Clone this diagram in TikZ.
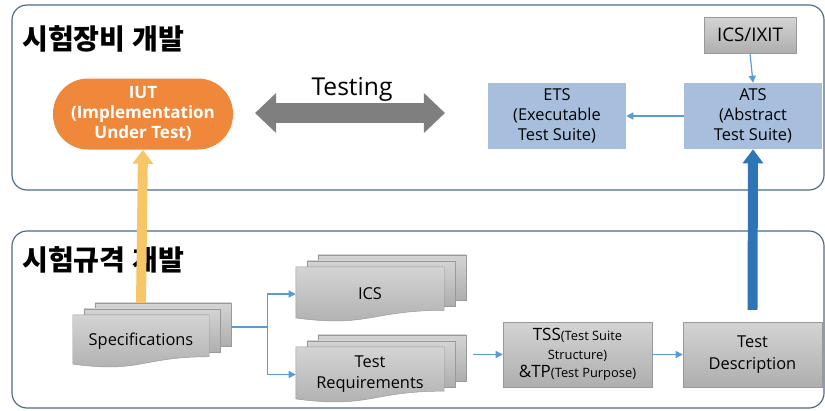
\documentclass[tikz,border=0pt]{standalone}
\usepackage{fontspec}
\setmainfont{Open Sans}
\newfontfamily\krfont{Noto Sans CJK KR}
\usetikzlibrary{arrows.meta,calc,backgrounds}

\definecolor{panelline}{HTML}{4A6A8A}
\definecolor{iutorange}{HTML}{F0883C}
\definecolor{testgray}{HTML}{7F7F7F}
\definecolor{boxblue}{HTML}{A7BFDD}
\definecolor{flowblue}{HTML}{5B9BD5}
\definecolor{thickblue}{HTML}{2E75B6}
\definecolor{goldbar}{HTML}{F6C667}
\definecolor{doctop}{HTML}{D4D4D4}
\definecolor{docbot}{HTML}{AEAEAE}
\definecolor{docline}{HTML}{999999}

\newcommand{\multidoc}[1]{%
  \begin{pgfonlayer}{background}
    \foreach \k in {2,1}{
      \path[docshape] ($(#1.north west)+(\k*11,-\k*6)$) rectangle ($(#1.north east)!0.83!(#1.south east)+(\k*11,-\k*6)$);
    }
    \path[docshape] (#1.north west) -- (#1.north east) -- ($(#1.north east)!0.8!(#1.south east)$)
      .. controls ($(#1.north)!0.8!(#1.south)$) and ($(#1.north)!1.12!(#1.south)$) .. ($(#1.north west)!0.94!(#1.south west)$) -- cycle;
  \end{pgfonlayer}}

\begin{document}
\begin{tikzpicture}[x=0.03cm,y=-0.03cm,
    panel/.style={draw=panelline,line width=1pt,rounded corners=0.45cm},
    title/.style={anchor=west,inner sep=0pt,font=\krfont\bfseries\fontsize{24}{28}\selectfont},
    iut/.style={fill=iutorange,rounded corners=1.05cm,minimum width=5.4cm,minimum height=2.13cm,align=center,text=white,font=\bfseries\fontsize{14.5}{17}\selectfont},
    bluebox/.style={fill=boxblue,minimum width=4.14cm,minimum height=1.98cm,align=center,font=\fontsize{14}{17}\selectfont},
    graybox/.style={draw=docline,top color=doctop,bottom color=docbot,align=center,font=\fontsize{13.5}{18}\selectfont},
    docnode/.style={minimum width=4.44cm,minimum height=1.62cm,align=center,font=\fontsize{14}{18}\selectfont},
    docshape/.style={draw=docline,line width=0.4pt,top color=doctop,bottom color=docbot},
    flow/.style={draw=flowblue,line width=1pt,-{Triangle[length=6pt,width=6pt]}},
    testarrow/.style={draw=testgray,line width=17pt,{Triangle[length=18pt,width=33pt]}-{Triangle[length=18pt,width=33pt]}},
    bigarrow/.style={line width=8.5pt,-{Triangle[length=12pt,width=17pt]}}]
  \useasboundingbox (0,0) rectangle (825,410);

  \draw[panel] (12,5) rectangle (824,190);
  \draw[panel] (12,231) rectangle (824,408);

  \node[title] (devtitle) at (22,39) {시험장비 개발};
  \node[title] (spectitle) at (22,260) {시험규격 개발};

  \node[iut] (iut) at (143,114) {IUT\\(Implementation\\Under Test)};
  \node[bluebox] (ets) at (557,116) {ETS\\(Executable\\Test Suite)};
  \node[bluebox] (ats) at (753,116) {ATS\\(Abstract\\Test Suite)};
  \node[graybox,minimum width=2.76cm,minimum height=1.08cm,font=\fontsize{16}{18}\selectfont] (ixit) at (750,35) {ICS/IXIT};

  \coordinate (tleft) at (255,113);
  \coordinate (tright) at (445,113);
  \draw[testarrow] (tleft) -- (tright);
  \node[font=\fontsize{21}{24}\selectfont] (testlbl) at (352,89) {Testing};

  \node[docnode,minimum width=4.08cm,minimum height=1.56cm] (spec) at (141,341) {Specifications};
  \node[docnode] (ics) at (370,294) {ICS};
  \node[docnode,minimum height=1.65cm] (treq) at (370,374.5) {Test\\Requirements};
  \multidoc{spec}
  \multidoc{ics}
  \multidoc{treq}

  \node[graybox,minimum width=4.47cm,minimum height=1.95cm,font=\fontsize{11}{16}\selectfont] (tss) at (577.5,354.5)
    {{\fontsize{14.5}{16}\selectfont TSS}(Test Suite\\Structure)\\{\fontsize{14.5}{16}\selectfont\&TP}(Test Purpose)};
  \node[graybox,minimum width=4.17cm,minimum height=1.95cm,font=\fontsize{14}{19}\selectfont] (tdesc) at (752.5,354.5) {Test\\Description};

  \coordinate (specout) at ($(spec.east)+(22,-14)$);
  \coordinate (split) at ($(spec.east)+(58,-14)$);
  \draw[draw=flowblue,line width=1pt] (specout) -- (split);
  \draw[flow] (split) |- (ics.west);
  \draw[flow] (split) |- (treq.west);
  \draw[flow] ([xshift=0.87cm]treq.east |- tss.west) -- (tss.west);
  \draw[flow] (tss.east) -- (tdesc.west);
  \draw[flow] (ats.west) -- (ets.east);
  \draw[flow] (ixit.south) -- (ats.north);

  \draw[bigarrow,goldbar] ($(spec.north)+(0,-12)$) -- (iut.south);
  \draw[bigarrow,thickblue] ($(tdesc.north)+(0,-12)$) -- (ats.south);
\end{tikzpicture}
\end{document}
